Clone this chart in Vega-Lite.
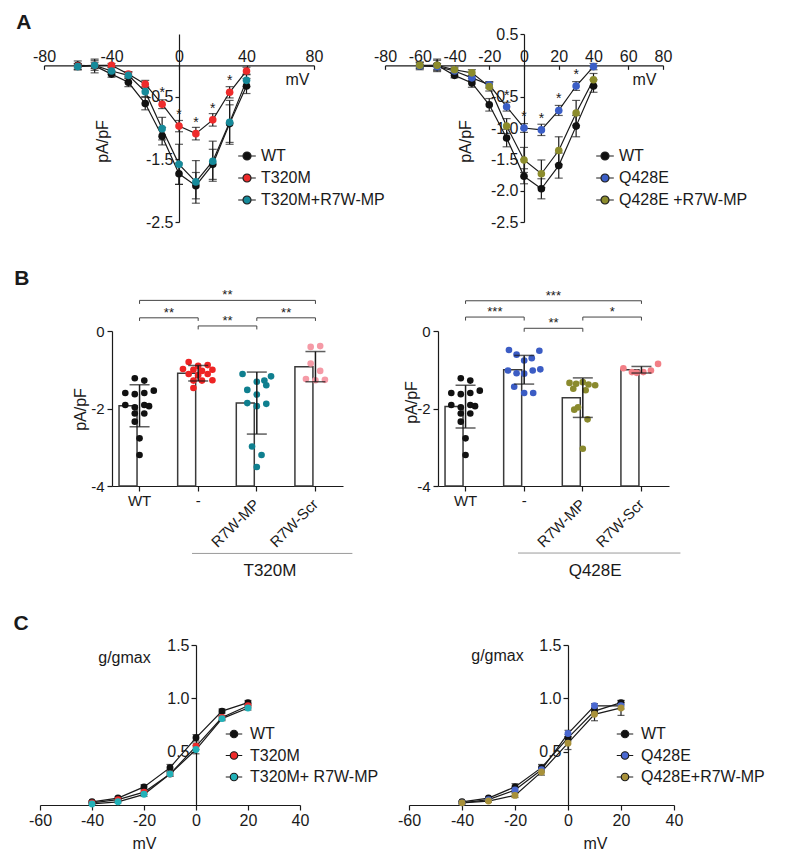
{
  "$schema": "https://vega.github.io/schema/vega-lite/v6.json",
  "background": "white",
  "padding": {"left": 13, "top": 12, "right": 5, "bottom": 5},
  "spacing": 38,
  "resolve": {"scale": {"color": "independent", "xOffset": "independent"}, "legend": {"color": "independent"}},
  "config": {
    "font": "Liberation Sans",
    "locale": {"number": {"decimal": ".", "thousands": ",", "grouping": [3], "currency": ["$", ""], "minus": "-"}},
    "view": {"stroke": null},
    "axis": {"grid": false, "domainColor": "#1a1a1a", "tickColor": "#1a1a1a", "labelColor": "#1a1a1a", "titleColor": "#1a1a1a", "domainWidth": 1.2, "tickWidth": 1.2, "labelFontSize": 15, "titleFontSize": 16, "titleFontWeight": "normal", "labelFont": "Liberation Sans", "titleFont": "Liberation Sans"},
    "legend": {"labelFont": "Liberation Sans", "labelFontSize": 16, "labelColor": "#1a1a1a"},
    "text": {"font": "Liberation Sans", "color": "#1a1a1a"}
  },
  "datasets": {
    "a1": [
      {"g": "WT", "mv": -60, "y": 0.0, "e": 0.07},
      {"g": "WT", "mv": -50, "y": -0.01, "e": 0.11},
      {"g": "WT", "mv": -40, "y": -0.14, "e": 0.05},
      {"g": "WT", "mv": -30, "y": -0.27, "e": 0.07},
      {"g": "WT", "mv": -20, "y": -0.61, "e": 0.1},
      {"g": "WT", "mv": -10, "y": -1.13, "e": 0.14},
      {"g": "WT", "mv": 0, "y": -1.73, "e": 0.17},
      {"g": "WT", "mv": 10, "y": -1.92, "e": 0.21},
      {"g": "WT", "mv": 20, "y": -1.58, "e": 0.24},
      {"g": "WT", "mv": 30, "y": -0.93, "e": 0.3},
      {"g": "WT", "mv": 40, "y": -0.33, "e": 0.12},
      {"g": "T320M", "mv": -60, "y": -0.01, "e": 0.03},
      {"g": "T320M", "mv": -50, "y": 0.0, "e": 0.05},
      {"g": "T320M", "mv": -40, "y": 0.0, "e": 0.03},
      {"g": "T320M", "mv": -30, "y": -0.14, "e": 0.04},
      {"g": "T320M", "mv": -20, "y": -0.3, "e": 0.06},
      {"g": "T320M", "mv": -10, "y": -0.62, "e": 0.07, "sig": "*"},
      {"g": "T320M", "mv": 0, "y": -0.97, "e": 0.09, "sig": "*"},
      {"g": "T320M", "mv": 10, "y": -1.09, "e": 0.1, "sig": "*"},
      {"g": "T320M", "mv": 20, "y": -0.87, "e": 0.1, "sig": "*"},
      {"g": "T320M", "mv": 30, "y": -0.43, "e": 0.09, "sig": "*"},
      {"g": "T320M", "mv": 40, "y": -0.09, "e": 0.06},
      {"g": "T320M+R7W-MP", "mv": -60, "y": -0.02, "e": 0.05},
      {"g": "T320M+R7W-MP", "mv": -50, "y": 0.0, "e": 0.08},
      {"g": "T320M+R7W-MP", "mv": -40, "y": -0.09, "e": 0.05},
      {"g": "T320M+R7W-MP", "mv": -30, "y": -0.16, "e": 0.05},
      {"g": "T320M+R7W-MP", "mv": -20, "y": -0.42, "e": 0.08},
      {"g": "T320M+R7W-MP", "mv": -10, "y": -1.01, "e": 0.18},
      {"g": "T320M+R7W-MP", "mv": 0, "y": -1.58, "e": 0.32},
      {"g": "T320M+R7W-MP", "mv": 10, "y": -1.86, "e": 0.34},
      {"g": "T320M+R7W-MP", "mv": 20, "y": -1.53, "e": 0.32},
      {"g": "T320M+R7W-MP", "mv": 30, "y": -0.91, "e": 0.35},
      {"g": "T320M+R7W-MP", "mv": 40, "y": -0.24, "e": 0.1}
    ],
    "a2": [
      {"g": "WT", "mv": -60, "y": -0.01, "e": 0.06},
      {"g": "WT", "mv": -50, "y": 0.0, "e": 0.1},
      {"g": "WT", "mv": -40, "y": -0.16, "e": 0.04},
      {"g": "WT", "mv": -30, "y": -0.28, "e": 0.07},
      {"g": "WT", "mv": -20, "y": -0.63, "e": 0.1},
      {"g": "WT", "mv": -10, "y": -1.16, "e": 0.14},
      {"g": "WT", "mv": 0, "y": -1.77, "e": 0.12},
      {"g": "WT", "mv": 10, "y": -1.97, "e": 0.16},
      {"g": "WT", "mv": 20, "y": -1.6, "e": 0.2},
      {"g": "WT", "mv": 30, "y": -0.97, "e": 0.17},
      {"g": "WT", "mv": 40, "y": -0.33, "e": 0.1},
      {"g": "Q428E", "mv": -60, "y": -0.01, "e": 0.03},
      {"g": "Q428E", "mv": -50, "y": -0.02, "e": 0.05},
      {"g": "Q428E", "mv": -40, "y": -0.09, "e": 0.03},
      {"g": "Q428E", "mv": -30, "y": -0.2, "e": 0.04},
      {"g": "Q428E", "mv": -20, "y": -0.31, "e": 0.05},
      {"g": "Q428E", "mv": -10, "y": -0.66, "e": 0.07, "sig": "*"},
      {"g": "Q428E", "mv": 0, "y": -1.0, "e": 0.07, "sig": "*"},
      {"g": "Q428E", "mv": 10, "y": -1.03, "e": 0.09, "sig": "*"},
      {"g": "Q428E", "mv": 20, "y": -0.72, "e": 0.08, "sig": "*"},
      {"g": "Q428E", "mv": 30, "y": -0.33, "e": 0.07, "sig": "*"},
      {"g": "Q428E", "mv": 40, "y": -0.02, "e": 0.05},
      {"g": "Q428E +R7W-MP", "mv": -60, "y": 0.0, "e": 0.05},
      {"g": "Q428E +R7W-MP", "mv": -50, "y": 0.0, "e": 0.08},
      {"g": "Q428E +R7W-MP", "mv": -40, "y": -0.07, "e": 0.04},
      {"g": "Q428E +R7W-MP", "mv": -30, "y": -0.12, "e": 0.05},
      {"g": "Q428E +R7W-MP", "mv": -20, "y": -0.34, "e": 0.07},
      {"g": "Q428E +R7W-MP", "mv": -10, "y": -0.97, "e": 0.12},
      {"g": "Q428E +R7W-MP", "mv": 0, "y": -1.51, "e": 0.2},
      {"g": "Q428E +R7W-MP", "mv": 10, "y": -1.73, "e": 0.22},
      {"g": "Q428E +R7W-MP", "mv": 20, "y": -1.36, "e": 0.22},
      {"g": "Q428E +R7W-MP", "mv": 30, "y": -0.76, "e": 0.2},
      {"g": "Q428E +R7W-MP", "mv": 40, "y": -0.23, "e": 0.1}
    ],
    "b1s": [
      {"cat": "WT", "m": -1.93, "sd": 0.54},
      {"cat": "-", "m": -1.09, "sd": 0.2},
      {"cat": "R7W-MP", "m": -1.86, "sd": 0.8},
      {"cat": "R7W-Scr", "m": -0.92, "sd": 0.39}
    ],
    "b1p": [
      {"cat": "WT", "slot": -0.5, "v": -1.22}, {"cat": "WT", "slot": 0.5, "v": -1.28},
      {"cat": "WT", "slot": -1.5, "v": -1.6}, {"cat": "WT", "slot": -0.5, "v": -1.63},
      {"cat": "WT", "slot": 0.5, "v": -1.6}, {"cat": "WT", "slot": 1.5, "v": -1.54},
      {"cat": "WT", "slot": -1.5, "v": -1.91}, {"cat": "WT", "slot": -0.5, "v": -1.97},
      {"cat": "WT", "slot": 0.5, "v": -1.91}, {"cat": "WT", "slot": 1.0, "v": -1.94},
      {"cat": "WT", "slot": -0.5, "v": -2.13}, {"cat": "WT", "slot": 0.5, "v": -2.13},
      {"cat": "WT", "slot": -0.5, "v": -2.34}, {"cat": "WT", "slot": 0, "v": -2.77},
      {"cat": "WT", "slot": 0, "v": -3.2},
      {"cat": "-", "slot": -1.0, "v": -0.8}, {"cat": "-", "slot": -1.6, "v": -0.98},
      {"cat": "-", "slot": -0.5, "v": -1.0}, {"cat": "-", "slot": 0, "v": -0.9},
      {"cat": "-", "slot": 1.0, "v": -0.88}, {"cat": "-", "slot": 1.5, "v": -1.0},
      {"cat": "-", "slot": 0.4, "v": -1.03}, {"cat": "-", "slot": -1.0, "v": -1.11},
      {"cat": "-", "slot": 0, "v": -1.14}, {"cat": "-", "slot": 1.0, "v": -1.11},
      {"cat": "-", "slot": 0.4, "v": -1.28}, {"cat": "-", "slot": -0.5, "v": -1.28},
      {"cat": "-", "slot": 1.5, "v": -1.27}, {"cat": "-", "slot": -0.5, "v": -1.47},
      {"cat": "R7W-MP", "slot": -1.5, "v": -1.11}, {"cat": "R7W-MP", "slot": 0, "v": -1.31},
      {"cat": "R7W-MP", "slot": 0.8, "v": -1.28}, {"cat": "R7W-MP", "slot": 1.5, "v": -1.17},
      {"cat": "R7W-MP", "slot": -1.0, "v": -1.52}, {"cat": "R7W-MP", "slot": 0, "v": -1.64},
      {"cat": "R7W-MP", "slot": 1.0, "v": -1.4}, {"cat": "R7W-MP", "slot": -1.0, "v": -1.86},
      {"cat": "R7W-MP", "slot": 0, "v": -1.94}, {"cat": "R7W-MP", "slot": 1.0, "v": -1.88},
      {"cat": "R7W-MP", "slot": -0.5, "v": -2.98}, {"cat": "R7W-MP", "slot": 0.5, "v": -3.2},
      {"cat": "R7W-MP", "slot": 0, "v": -3.51},
      {"cat": "R7W-Scr", "slot": -0.5, "v": -0.41}, {"cat": "R7W-Scr", "slot": 0.5, "v": -0.39},
      {"cat": "R7W-Scr", "slot": -0.5, "v": -0.84}, {"cat": "R7W-Scr", "slot": 0.5, "v": -1.03},
      {"cat": "R7W-Scr", "slot": -1.0, "v": -1.24}, {"cat": "R7W-Scr", "slot": 0, "v": -1.27},
      {"cat": "R7W-Scr", "slot": 1.0, "v": -1.26}
    ],
    "b1b": [
      {"a": "WT", "b": "R7W-Scr", "y": 0.79, "yt": 0.7, "label": "**"},
      {"a": "WT", "b": "-", "y": 0.34, "yt": 0.26, "label": "**"},
      {"a": "-", "b": "R7W-MP", "y": 0.13, "yt": 0.04, "label": "**"},
      {"a": "R7W-MP", "b": "R7W-Scr", "y": 0.34, "yt": 0.26, "label": "**"}
    ],
    "b2s": [
      {"cat": "WT", "m": -1.95, "sd": 0.55},
      {"cat": "-", "m": -1.0, "sd": 0.37},
      {"cat": "R7W-MP", "m": -1.72, "sd": 0.51},
      {"cat": "R7W-Scr", "m": -1.0, "sd": 0.085}
    ],
    "b2p": [
      {"cat": "WT", "slot": -0.5, "v": -1.22}, {"cat": "WT", "slot": 0.5, "v": -1.28},
      {"cat": "WT", "slot": -1.5, "v": -1.6}, {"cat": "WT", "slot": -0.5, "v": -1.63},
      {"cat": "WT", "slot": 0.5, "v": -1.6}, {"cat": "WT", "slot": 1.5, "v": -1.54},
      {"cat": "WT", "slot": -1.5, "v": -1.91}, {"cat": "WT", "slot": -0.5, "v": -1.97},
      {"cat": "WT", "slot": 0.5, "v": -1.91}, {"cat": "WT", "slot": 1.0, "v": -1.94},
      {"cat": "WT", "slot": -0.5, "v": -2.13}, {"cat": "WT", "slot": 0.5, "v": -2.13},
      {"cat": "WT", "slot": -0.5, "v": -2.34}, {"cat": "WT", "slot": 0, "v": -2.77},
      {"cat": "WT", "slot": 0, "v": -3.2},
      {"cat": "-", "slot": -1.6, "v": -0.49}, {"cat": "-", "slot": 1.6, "v": -0.51},
      {"cat": "-", "slot": -0.8, "v": -0.61}, {"cat": "-", "slot": 0.8, "v": -0.7},
      {"cat": "-", "slot": 0, "v": -0.76}, {"cat": "-", "slot": -1.7, "v": -1.02},
      {"cat": "-", "slot": -0.8, "v": -1.09}, {"cat": "-", "slot": 0, "v": -1.1},
      {"cat": "-", "slot": 0.9, "v": -1.02}, {"cat": "-", "slot": 1.7, "v": -0.99},
      {"cat": "-", "slot": -1.05, "v": -1.44}, {"cat": "-", "slot": 0, "v": -1.6},
      {"cat": "-", "slot": 0.95, "v": -1.6},
      {"cat": "R7W-MP", "slot": -1.4, "v": -1.34}, {"cat": "R7W-MP", "slot": -0.7, "v": -1.36},
      {"cat": "R7W-MP", "slot": 0, "v": -1.32}, {"cat": "R7W-MP", "slot": 0.6, "v": -1.38},
      {"cat": "R7W-MP", "slot": 1.3, "v": -1.4}, {"cat": "R7W-MP", "slot": -1.0, "v": -1.49},
      {"cat": "R7W-MP", "slot": 0.3, "v": -1.53}, {"cat": "R7W-MP", "slot": -0.5, "v": -1.97},
      {"cat": "R7W-MP", "slot": -0.9, "v": -2.03}, {"cat": "R7W-MP", "slot": 0.5, "v": -2.28},
      {"cat": "R7W-MP", "slot": 0, "v": -3.04},
      {"cat": "R7W-Scr", "slot": -1.9, "v": -0.96}, {"cat": "R7W-Scr", "slot": -1.0, "v": -1.06},
      {"cat": "R7W-Scr", "slot": -0.5, "v": -1.08}, {"cat": "R7W-Scr", "slot": 0.2, "v": -1.06},
      {"cat": "R7W-Scr", "slot": 1.0, "v": -1.02}, {"cat": "R7W-Scr", "slot": 1.75, "v": -0.85}
    ],
    "b2b": [
      {"a": "WT", "b": "R7W-Scr", "y": 0.78, "yt": 0.7, "label": "***"},
      {"a": "WT", "b": "-", "y": 0.36, "yt": 0.27, "label": "***"},
      {"a": "-", "b": "R7W-MP", "y": 0.07, "yt": -0.02, "label": "**"},
      {"a": "R7W-MP", "b": "R7W-Scr", "y": 0.36, "yt": 0.27, "label": "*"}
    ],
    "c1": [
      {"g": "WT", "mv": -40, "y": 0.03, "e": 0.01},
      {"g": "WT", "mv": -30, "y": 0.065, "e": 0.01},
      {"g": "WT", "mv": -20, "y": 0.17, "e": 0.02},
      {"g": "WT", "mv": -10, "y": 0.35, "e": 0.03},
      {"g": "WT", "mv": 0, "y": 0.63, "e": 0.03},
      {"g": "WT", "mv": 10, "y": 0.88, "e": 0.02},
      {"g": "WT", "mv": 20, "y": 0.96, "e": 0.02},
      {"g": "T320M", "mv": -40, "y": 0.02, "e": 0.01},
      {"g": "T320M", "mv": -30, "y": 0.05, "e": 0.01},
      {"g": "T320M", "mv": -20, "y": 0.12, "e": 0.02},
      {"g": "T320M", "mv": -10, "y": 0.29, "e": 0.02},
      {"g": "T320M", "mv": 0, "y": 0.55, "e": 0.03},
      {"g": "T320M", "mv": 10, "y": 0.82, "e": 0.02},
      {"g": "T320M", "mv": 20, "y": 0.93, "e": 0.02},
      {"g": "T320M+ R7W-MP", "mv": -40, "y": 0.01, "e": 0.01},
      {"g": "T320M+ R7W-MP", "mv": -30, "y": 0.03, "e": 0.01},
      {"g": "T320M+ R7W-MP", "mv": -20, "y": 0.1, "e": 0.02},
      {"g": "T320M+ R7W-MP", "mv": -10, "y": 0.29, "e": 0.02},
      {"g": "T320M+ R7W-MP", "mv": 0, "y": 0.52, "e": 0.04},
      {"g": "T320M+ R7W-MP", "mv": 10, "y": 0.81, "e": 0.02},
      {"g": "T320M+ R7W-MP", "mv": 20, "y": 0.91, "e": 0.02}
    ],
    "c2": [
      {"g": "WT", "mv": -40, "y": 0.03, "e": 0.01},
      {"g": "WT", "mv": -30, "y": 0.065, "e": 0.01},
      {"g": "WT", "mv": -20, "y": 0.17, "e": 0.03},
      {"g": "WT", "mv": -10, "y": 0.35, "e": 0.03},
      {"g": "WT", "mv": 0, "y": 0.63, "e": 0.03},
      {"g": "WT", "mv": 10, "y": 0.88, "e": 0.02},
      {"g": "WT", "mv": 20, "y": 0.96, "e": 0.02},
      {"g": "Q428E", "mv": -40, "y": 0.02, "e": 0.01},
      {"g": "Q428E", "mv": -30, "y": 0.05, "e": 0.01},
      {"g": "Q428E", "mv": -20, "y": 0.14, "e": 0.02},
      {"g": "Q428E", "mv": -10, "y": 0.33, "e": 0.02},
      {"g": "Q428E", "mv": 0, "y": 0.67, "e": 0.03},
      {"g": "Q428E", "mv": 10, "y": 0.93, "e": 0.02},
      {"g": "Q428E", "mv": 20, "y": 0.93, "e": 0.03},
      {"g": "Q428E+R7W-MP", "mv": -40, "y": 0.02, "e": 0.01},
      {"g": "Q428E+R7W-MP", "mv": -30, "y": 0.037, "e": 0.01},
      {"g": "Q428E+R7W-MP", "mv": -20, "y": 0.09, "e": 0.02},
      {"g": "Q428E+R7W-MP", "mv": -10, "y": 0.31, "e": 0.03},
      {"g": "Q428E+R7W-MP", "mv": 0, "y": 0.58, "e": 0.06},
      {"g": "Q428E+R7W-MP", "mv": 10, "y": 0.85, "e": 0.06},
      {"g": "Q428E+R7W-MP", "mv": 20, "y": 0.91, "e": 0.07}
    ]
  },
  "vconcat": [
    {
      "hconcat": [
        {"width": 4, "height": 20, "data": {"values": [{}]}, "mark": {"type": "point", "opacity": 0}},
        {
          "hconcat": [
            {
              "width": 270, "height": 188,
              "layer": [
                {
                  "data": {"name": "a1"},
                  "encoding": {
                    "x": {"field": "mv", "type": "quantitative", "scale": {"domain": [-80, 80], "nice": false, "zero": false},
                      "axis": {"orient": "top", "offset": -31.33, "values": [-80, -60, -40, -20, 0, 20, 40, 60, 80], "tickSize": -4, "labelPadding": 5, "labelFontSize": 16, "labelFlush": false, "title": "mV", "titleX": 253, "titleY": 14, "titleAlign": "center", "titleBaseline": "middle", "titleFontSize": 16}},
                    "y": {"field": "y", "type": "quantitative", "scale": {"domain": [-2.5, 0.5], "nice": false, "zero": false},
                      "axis": {"orient": "left", "offset": -135, "values": [0.5, -0.5, -1, -1.5, -2, -2.5], "format": ".1f", "tickSize": 4, "labelPadding": 2, "labelFontSize": 16, "title": "pA/pF", "titleX": -77, "titleY": 107, "titleAngle": 270, "titleAlign": "center", "titleBaseline": "middle", "titleFontSize": 16}}
                  },
                  "layer": [
                    {"mark": {"type": "errorbar", "ticks": true, "size": 8, "thickness": 1.2, "color": "#1a1a1a"}, "encoding": {"yError": {"field": "e"}}},
                    {"mark": {"type": "line", "color": "#1a1a1a", "strokeWidth": 1.2}, "encoding": {"detail": {"field": "g"}}},
                    {"mark": {"type": "point", "filled": true, "size": 58, "opacity": 1},
                      "encoding": {"color": {"field": "g", "type": "nominal",
                        "scale": {"domain": ["WT", "T320M", "T320M+R7W-MP"], "range": ["#111111", "#ee2b2b", "#168a9a"]},
                        "legend": {"orient": "none", "legendX": 195, "legendY": 114, "title": null, "symbolType": "M-2.2,0L-1,0M1,0L2.2,0M1,0A1,1,0,1,1,-1,0A1,1,0,1,1,1,0Z", "symbolSize": 64, "symbolStrokeColor": "#1a1a1a", "symbolStrokeWidth": 1.2, "labelFontSize": 16, "labelOffset": 6, "rowPadding": 6, "padding": 0}}}},
                    {"transform": [{"filter": "datum.sig == '*'"}], "mark": {"type": "text", "dy": -11, "fontSize": 14, "baseline": "middle"}, "encoding": {"text": {"field": "sig"}}}
                  ]
                },
                {"data": {"values": [{"p": "A"}]}, "mark": {"type": "text", "fontSize": 21, "fontWeight": "bold", "baseline": "middle", "align": "center"},
                  "encoding": {"text": {"field": "p"}, "x": {"datum": -91.9, "type": "quantitative"}, "y": {"datum": 0.668, "type": "quantitative"}}}
              ]
            },
            {
              "width": 278, "height": 188,
              "data": {"name": "a2"},
              "encoding": {
                "x": {"field": "mv", "type": "quantitative", "scale": {"domain": [-80, 80], "nice": false, "zero": false},
                  "axis": {"orient": "top", "offset": -31.33, "values": [-80, -60, -40, -20, 0, 20, 40, 60, 80], "tickSize": -4, "labelPadding": 5, "labelFontSize": 16, "labelFlush": false, "title": "mV", "titleX": 259, "titleY": 14, "titleAlign": "center", "titleBaseline": "middle", "titleFontSize": 16}},
                "y": {"field": "y", "type": "quantitative", "scale": {"domain": [-2.5, 0.5], "nice": false, "zero": false},
                  "axis": {"orient": "left", "offset": -139, "values": [0.5, -0.5, -1, -1.5, -2, -2.5], "format": ".1f", "tickSize": 4, "labelPadding": 2, "labelFontSize": 16, "title": "pA/pF", "titleX": -59, "titleY": 107, "titleAngle": 270, "titleAlign": "center", "titleBaseline": "middle", "titleFontSize": 16}}
              },
              "layer": [
                {"mark": {"type": "errorbar", "ticks": true, "size": 8, "thickness": 1.2, "color": "#1a1a1a"}, "encoding": {"yError": {"field": "e"}}},
                {"mark": {"type": "line", "color": "#1a1a1a", "strokeWidth": 1.2}, "encoding": {"detail": {"field": "g"}}},
                {"mark": {"type": "point", "filled": true, "size": 58, "opacity": 1},
                  "encoding": {"color": {"field": "g", "type": "nominal",
                    "scale": {"domain": ["WT", "Q428E", "Q428E +R7W-MP"], "range": ["#111111", "#3b5ec6", "#8c8c2c"]},
                    "legend": {"orient": "none", "legendX": 212, "legendY": 114, "title": null, "symbolType": "M-2.2,0L-1,0M1,0L2.2,0M1,0A1,1,0,1,1,-1,0A1,1,0,1,1,1,0Z", "symbolSize": 64, "symbolStrokeColor": "#1a1a1a", "symbolStrokeWidth": 1.2, "labelFontSize": 16, "labelOffset": 6, "rowPadding": 6, "padding": 0}}}},
                {"transform": [{"filter": "datum.sig == '*'"}], "mark": {"type": "text", "dy": -11, "fontSize": 14, "baseline": "middle"}, "encoding": {"text": {"field": "sig"}}}
              ]
            }
          ],
          "spacing": 71,
          "bounds": "flush",
          "resolve": {"scale": {"color": "independent"}, "legend": {"color": "independent"}}
        }
      ],
      "spacing": 0,
      "bounds": "flush",
      "resolve": {"scale": {"color": "independent"}, "legend": {"color": "independent"}}
    },
    {
      "vconcat": [
        {
          "hconcat": [
            {"width": 72, "height": 20, "data": {"values": [{}]}, "mark": {"type": "point", "opacity": 0}},
            {
              "hconcat": [
                {
                  "width": 231, "height": 155,
                  "layer": [
                    {"data": {"name": "b1s"}, "mark": {"type": "bar", "fill": "white", "stroke": "#3a3a3a", "strokeWidth": 1.5},
                      "encoding": {
                        "x": {"field": "cat", "type": "nominal", "scale": {"domain": ["WT", "-", "R7W-MP", "R7W-Scr"], "paddingInner": 0.3, "paddingOuter": 0.12}, "axis": {"title": null, "labels": false, "tickSize": 5}},
                        "y": {"field": "m", "type": "quantitative", "scale": {"domain": [-4, 0], "nice": false, "zero": false},
                          "axis": {"values": [-4, -3, -2, -1, 0], "tickSize": 5, "labelPadding": 3, "labelFontSize": 15, "title": "pA/pF", "titleX": -32, "titleY": 78, "titleAngle": 270, "titleAlign": "center", "titleBaseline": "middle", "titleFontSize": 16}},
                        "y2": {"datum": -4}
                      }},
                    {"data": {"name": "b1p"}, "mark": {"type": "point", "filled": true, "size": 44, "opacity": 1},
                      "encoding": {
                        "x": {"field": "cat", "type": "nominal"},
                        "xOffset": {"field": "slot", "type": "quantitative", "scale": {"domain": [-3, 3], "range": [-8, 49], "nice": false, "zero": false}},
                        "y": {"field": "v", "type": "quantitative"},
                        "color": {"field": "cat", "type": "nominal", "scale": {"domain": ["WT", "-", "R7W-MP", "R7W-Scr"], "range": ["#111111", "#ee2424", "#0f7f8f", "#f59aa6"]}, "legend": null}
                      }},
                    {"data": {"name": "b1s"}, "mark": {"type": "errorbar", "ticks": true, "size": 20, "thickness": 1.5, "color": "#1a1a1a"},
                      "encoding": {
                        "x": {"field": "cat", "type": "nominal"},
                        "y": {"field": "m", "type": "quantitative", "title": "pA/pF"},
                        "yError": {"field": "sd"}
                      }},
                    {"data": {"name": "b1b"}, "mark": {"type": "rule", "color": "#444", "strokeWidth": 1},
                      "encoding": {
                        "x": {"field": "a", "type": "nominal"},
                        "x2": {"field": "b"},
                        "y": {"field": "y", "type": "quantitative"}
                      }},
                    {"data": {"name": "b1b"}, "mark": {"type": "rule", "color": "#444", "strokeWidth": 1},
                      "encoding": {
                        "x": {"field": "a", "type": "nominal"},
                        "y": {"field": "y", "type": "quantitative"},
                        "y2": {"field": "yt"}
                      }},
                    {"data": {"name": "b1b"}, "mark": {"type": "rule", "color": "#444", "strokeWidth": 1},
                      "encoding": {
                        "x": {"field": "b", "type": "nominal"},
                        "y": {"field": "y", "type": "quantitative"},
                        "y2": {"field": "yt"}
                      }},
                    {"data": {"name": "b1b"}, "transform": [{"filter": "!(datum.a == 'WT' && datum.b == 'R7W-Scr')"}],
                      "mark": {"type": "text", "fontSize": 13, "baseline": "alphabetic", "dy": -1},
                      "encoding": {
                        "x": {"field": "a", "type": "nominal", "bandPosition": 1.215},
                        "y": {"field": "y", "type": "quantitative"},
                        "text": {"field": "label"}
                      }},
                    {"data": {"name": "b1b"}, "transform": [{"filter": "datum.a == 'WT' && datum.b == 'R7W-Scr'"}],
                      "mark": {"type": "text", "fontSize": 13, "baseline": "alphabetic", "dy": -1},
                      "encoding": {
                        "x": {"field": "a", "type": "nominal", "bandPosition": 2.64},
                        "y": {"field": "y", "type": "quantitative"},
                        "text": {"field": "label"}
                      }},
                    {"data": {"name": "b1s"}, "transform": [{"filter": "datum.cat == 'WT' || datum.cat == '-'"}],
                      "mark": {"type": "text", "fontSize": 15, "baseline": "top", "dy": 8},
                      "encoding": {
                        "x": {"field": "cat", "type": "nominal"},
                        "y": {"datum": -4, "type": "quantitative"},
                        "text": {"field": "cat"}
                      }},
                    {"data": {"name": "b1s"}, "transform": [{"filter": "datum.cat == 'R7W-MP' || datum.cat == 'R7W-Scr'"}],
                      "mark": {"type": "text", "fontSize": 15, "baseline": "middle", "align": "right", "angle": 315},
                      "encoding": {
                        "x": {"field": "cat", "type": "nominal"},
                        "y": {"datum": -4.41, "type": "quantitative"},
                        "text": {"field": "cat"}
                      }},
                    {"data": {"values": [{"grp": "T320M", "from": "-", "to": "R7W-Scr"}]}, "mark": {"type": "rule", "color": "#9a9a9a", "strokeWidth": 1},
                      "encoding": {
                        "x": {"field": "from", "type": "nominal", "bandPosition": 0.35},
                        "x2": {"field": "to", "bandPosition": 1.4},
                        "y": {"datum": -5.74, "type": "quantitative"}
                      }},
                    {"data": {"values": [{"grp": "T320M"}]}, "mark": {"type": "text", "fontSize": 17, "baseline": "middle", "align": "center"},
                      "encoding": {
                        "x": {"datum": "R7W-MP", "type": "nominal", "bandPosition": 0.82},
                        "y": {"datum": -6.2, "type": "quantitative"},
                        "text": {"field": "grp"}
                      }},
                    {"data": {"values": [{"p": "B"}]}, "mark": {"type": "text", "fontSize": 21, "fontWeight": "bold", "baseline": "middle", "align": "center"},
                      "encoding": {
                        "x": {"datum": "WT", "type": "nominal", "bandPosition": -2.37},
                        "y": {"datum": 1.34, "type": "quantitative"},
                        "text": {"field": "p"}
                      }}
                  ]
                },
                {
                  "width": 231, "height": 155,
                  "layer": [
                    {"data": {"name": "b2s"}, "mark": {"type": "bar", "fill": "white", "stroke": "#3a3a3a", "strokeWidth": 1.5},
                      "encoding": {
                        "x": {"field": "cat", "type": "nominal", "scale": {"domain": ["WT", "-", "R7W-MP", "R7W-Scr"], "paddingInner": 0.3, "paddingOuter": 0.12}, "axis": {"title": null, "labels": false, "tickSize": 5}},
                        "y": {"field": "m", "type": "quantitative", "scale": {"domain": [-4, 0], "nice": false, "zero": false},
                          "axis": {"values": [-4, -3, -2, -1, 0], "tickSize": 5, "labelPadding": 3, "labelFontSize": 15, "title": "pA/pF", "titleX": -27, "titleY": 71, "titleAngle": 270, "titleAlign": "center", "titleBaseline": "middle", "titleFontSize": 16}},
                        "y2": {"datum": -4}
                      }},
                    {"data": {"name": "b2p"}, "mark": {"type": "point", "filled": true, "size": 44, "opacity": 1},
                      "encoding": {
                        "x": {"field": "cat", "type": "nominal"},
                        "xOffset": {"field": "slot", "type": "quantitative", "scale": {"domain": [-3, 3], "range": [-8, 49], "nice": false, "zero": false}},
                        "y": {"field": "v", "type": "quantitative"},
                        "color": {"field": "cat", "type": "nominal", "scale": {"domain": ["WT", "-", "R7W-MP", "R7W-Scr"], "range": ["#111111", "#3b5cc4", "#8a8a2e", "#f27f86"]}, "legend": null}
                      }},
                    {"data": {"name": "b2s"}, "mark": {"type": "errorbar", "ticks": true, "size": 20, "thickness": 1.5, "color": "#1a1a1a"},
                      "encoding": {
                        "x": {"field": "cat", "type": "nominal"},
                        "y": {"field": "m", "type": "quantitative", "title": "pA/pF"},
                        "yError": {"field": "sd"}
                      }},
                    {"data": {"name": "b2b"}, "mark": {"type": "rule", "color": "#444", "strokeWidth": 1},
                      "encoding": {
                        "x": {"field": "a", "type": "nominal"},
                        "x2": {"field": "b"},
                        "y": {"field": "y", "type": "quantitative"}
                      }},
                    {"data": {"name": "b2b"}, "mark": {"type": "rule", "color": "#444", "strokeWidth": 1},
                      "encoding": {
                        "x": {"field": "a", "type": "nominal"},
                        "y": {"field": "y", "type": "quantitative"},
                        "y2": {"field": "yt"}
                      }},
                    {"data": {"name": "b2b"}, "mark": {"type": "rule", "color": "#444", "strokeWidth": 1},
                      "encoding": {
                        "x": {"field": "b", "type": "nominal"},
                        "y": {"field": "y", "type": "quantitative"},
                        "y2": {"field": "yt"}
                      }},
                    {"data": {"name": "b2b"}, "transform": [{"filter": "!(datum.a == 'WT' && datum.b == 'R7W-Scr')"}],
                      "mark": {"type": "text", "fontSize": 13, "baseline": "alphabetic", "dy": -1},
                      "encoding": {
                        "x": {"field": "a", "type": "nominal", "bandPosition": 1.215},
                        "y": {"field": "y", "type": "quantitative"},
                        "text": {"field": "label"}
                      }},
                    {"data": {"name": "b2b"}, "transform": [{"filter": "datum.a == 'WT' && datum.b == 'R7W-Scr'"}],
                      "mark": {"type": "text", "fontSize": 13, "baseline": "alphabetic", "dy": -1},
                      "encoding": {
                        "x": {"field": "a", "type": "nominal", "bandPosition": 2.64},
                        "y": {"field": "y", "type": "quantitative"},
                        "text": {"field": "label"}
                      }},
                    {"data": {"name": "b2s"}, "transform": [{"filter": "datum.cat == 'WT' || datum.cat == '-'"}],
                      "mark": {"type": "text", "fontSize": 15, "baseline": "top", "dy": 8},
                      "encoding": {
                        "x": {"field": "cat", "type": "nominal"},
                        "y": {"datum": -4, "type": "quantitative"},
                        "text": {"field": "cat"}
                      }},
                    {"data": {"name": "b2s"}, "transform": [{"filter": "datum.cat == 'R7W-MP' || datum.cat == 'R7W-Scr'"}],
                      "mark": {"type": "text", "fontSize": 15, "baseline": "middle", "align": "right", "angle": 315},
                      "encoding": {
                        "x": {"field": "cat", "type": "nominal"},
                        "y": {"datum": -4.41, "type": "quantitative"},
                        "text": {"field": "cat"}
                      }},
                    {"data": {"values": [{"grp": "Q428E", "from": "-", "to": "R7W-Scr"}]}, "mark": {"type": "rule", "color": "#9a9a9a", "strokeWidth": 1},
                      "encoding": {
                        "x": {"field": "from", "type": "nominal", "bandPosition": 0.35},
                        "x2": {"field": "to", "bandPosition": 1.45},
                        "y": {"datum": -5.73, "type": "quantitative"}
                      }},
                    {"data": {"values": [{"grp": "Q428E"}]}, "mark": {"type": "text", "fontSize": 17, "baseline": "middle", "align": "center"},
                      "encoding": {
                        "x": {"datum": "R7W-MP", "type": "nominal", "bandPosition": 0.8},
                        "y": {"datum": -6.2, "type": "quantitative"},
                        "text": {"field": "grp"}
                      }}
                  ]
                }
              ],
              "spacing": 95,
              "bounds": "flush",
              "resolve": {"scale": {"color": "independent", "xOffset": "independent"}, "legend": {"color": "independent"}}
            }
          ],
          "spacing": 0,
          "bounds": "flush",
          "resolve": {"scale": {"color": "independent", "xOffset": "independent"}, "legend": {"color": "independent"}}
        },
        {
          "hconcat": [
            {
              "width": 260, "height": 160,
              "layer": [
                {
                  "data": {"name": "c1"},
                  "encoding": {
                    "x": {"field": "mv", "type": "quantitative", "scale": {"domain": [-60, 40], "nice": false, "zero": false},
                      "axis": {"values": [-60, -40, -20, 0, 20, 40], "tickSize": 5, "labelPadding": 2, "labelFontSize": 16, "labelFlush": false, "title": "mV", "titleX": 104, "titleY": 38, "titleAlign": "center", "titleBaseline": "middle", "titleFontSize": 16}},
                    "y": {"field": "y", "type": "quantitative", "scale": {"domain": [0, 1.5], "nice": false},
                      "axis": {"offset": -156, "values": [0.5, 1, 1.5], "format": ".1f", "tickSize": 5, "labelPadding": 2, "labelFontSize": 16, "title": "g/gmax", "titleAngle": 0, "titleX": -72, "titleY": 12, "titleAlign": "center", "titleBaseline": "middle", "titleFontSize": 16}}
                  },
                  "layer": [
                    {"mark": {"type": "errorbar", "ticks": true, "size": 7, "thickness": 1.2, "color": "#1a1a1a"}, "encoding": {"yError": {"field": "e"}}},
                    {"mark": {"type": "line", "color": "#1a1a1a", "strokeWidth": 1.2}, "encoding": {"detail": {"field": "g"}}},
                    {"mark": {"type": "point", "filled": true, "size": 48, "opacity": 1},
                      "encoding": {"color": {"field": "g", "type": "nominal",
                        "scale": {"domain": ["WT", "T320M", "T320M+ R7W-MP"], "range": ["#111111", "#ee2b2b", "#22b1b8"]},
                        "legend": {"orient": "none", "legendX": 186, "legendY": 81, "title": null, "symbolType": "M-2.2,0L-1,0M1,0L2.2,0M1,0A1,1,0,1,1,-1,0A1,1,0,1,1,1,0Z", "symbolSize": 56, "symbolStrokeColor": "#1a1a1a", "symbolStrokeWidth": 1.2, "labelFontSize": 16, "labelOffset": 8, "rowPadding": 5.5, "padding": 0}}}}
                  ]
                },
                {"data": {"values": [{"p": "C"}]}, "mark": {"type": "text", "fontSize": 21, "fontWeight": "bold", "baseline": "middle", "align": "center"},
                  "encoding": {"text": {"field": "p"}, "x": {"datum": -67.3, "type": "quantitative"}, "y": {"datum": 1.7, "type": "quantitative"}}}
              ]
            },
            {
              "width": 265, "height": 160,
              "data": {"name": "c2"},
              "encoding": {
                "x": {"field": "mv", "type": "quantitative", "scale": {"domain": [-60, 40], "nice": false, "zero": false},
                  "axis": {"values": [-60, -40, -20, 0, 20, 40], "tickSize": 5, "labelPadding": 2, "labelFontSize": 16, "labelFlush": false, "title": "mV", "titleX": 186, "titleY": 38, "titleAlign": "center", "titleBaseline": "middle", "titleFontSize": 16}},
                "y": {"field": "y", "type": "quantitative", "scale": {"domain": [0, 1.5], "nice": false},
                  "axis": {"offset": -159, "values": [0.5, 1, 1.5], "format": ".1f", "tickSize": 5, "labelPadding": 2, "labelFontSize": 16, "title": "g/gmax", "titleAngle": 0, "titleX": -71, "titleY": 10, "titleAlign": "center", "titleBaseline": "middle", "titleFontSize": 16}}
              },
              "layer": [
                {"mark": {"type": "errorbar", "ticks": true, "size": 7, "thickness": 1.2, "color": "#1a1a1a"}, "encoding": {"yError": {"field": "e"}}},
                {"mark": {"type": "line", "color": "#1a1a1a", "strokeWidth": 1.2}, "encoding": {"detail": {"field": "g"}}},
                {"mark": {"type": "point", "filled": true, "size": 48, "opacity": 1},
                  "encoding": {"color": {"field": "g", "type": "nominal",
                    "scale": {"domain": ["WT", "Q428E", "Q428E+R7W-MP"], "range": ["#111111", "#4a68d0", "#a8913a"]},
                    "legend": {"orient": "none", "legendX": 208, "legendY": 81, "title": null, "symbolType": "M-2.2,0L-1,0M1,0L2.2,0M1,0A1,1,0,1,1,-1,0A1,1,0,1,1,1,0Z", "symbolSize": 56, "symbolStrokeColor": "#1a1a1a", "symbolStrokeWidth": 1.2, "labelFontSize": 16, "labelOffset": 8, "rowPadding": 5.5, "padding": 0}}}}
              ]
            }
          ],
          "spacing": 109,
          "bounds": "flush",
          "resolve": {"scale": {"color": "independent"}, "legend": {"color": "independent"}}
        }
      ],
      "spacing": 32,
      "resolve": {"scale": {"color": "independent", "xOffset": "independent"}, "legend": {"color": "independent"}}
    }
  ]
}
